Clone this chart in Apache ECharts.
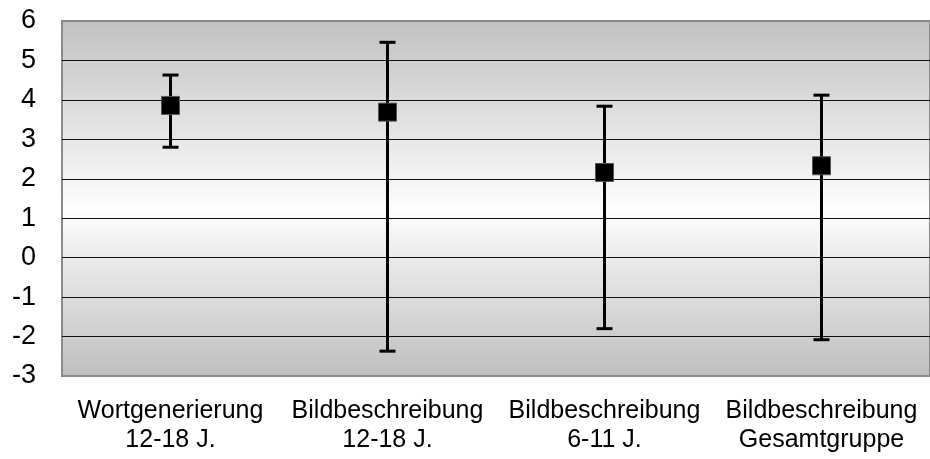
<!DOCTYPE html>
<html>
<head>
<meta charset="utf-8">
<script src="https://cdn.jsdelivr.net/npm/echarts@6/dist/echarts.min.js"></script>
<style>
  html, body { margin: 0; padding: 0; background: #fff; }
  #chart { width: 930px; height: 459px; }
</style>
</head>
<body>
<div id="chart"></div>
<script>
// Task groups shown on the x axis
const categories = [
  'Wortgenerierung\n12-18 J.',
  'Bildbeschreibung\n12-18 J.',
  'Bildbeschreibung\n6-11 J.',
  'Bildbeschreibung\nGesamtgruppe'
];
// Mean value per group
const means = [3.86, 3.69, 2.16, 2.33];
// Upper and lower whisker ends per group
const upper = [4.63, 5.46, 3.84, 4.12];
const lower = [2.80, -2.37, -1.80, -2.08];
// Value axis range
const yMin = -3;
const yMax = 6;
const yStep = 1;

const whiskers = categories.map((c, i) => [i, lower[i], upper[i]]);

const chart = echarts.init(document.getElementById('chart'), null, { renderer: 'canvas' });

chart.setOption({
  animation: false,
  grid: {
    left: 62, top: 21, right: 0, bottom: 83,
    show: true,
    borderColor: '#8a8a8a',
    borderWidth: 2,
    backgroundColor: {
      type: 'linear', x: 0, y: 0, x2: 0, y2: 1,
      colorStops: [
        { offset: 0, color: '#c1c1c1' },
        { offset: 0.53, color: '#fdfdfd' },
        { offset: 1, color: '#bfbfbf' }
      ]
    }
  },
  xAxis: {
    type: 'category',
    data: categories,
    boundaryGap: true,
    axisLine: { show: false },
    axisTick: { show: false },
    splitLine: { show: false },
    axisLabel: {
      interval: 0,
      margin: 21,
      color: '#000',
      fontFamily: '"Liberation Sans", Arial, sans-serif',
      fontSize: 25,
      lineHeight: 29
    }
  },
  yAxis: {
    type: 'value',
    min: yMin,
    max: yMax,
    interval: yStep,
    axisLine: { show: false },
    axisTick: { show: false },
    axisLabel: {
      margin: 26,
      color: '#000',
      fontFamily: '"Liberation Sans", Arial, sans-serif',
      fontSize: 27,
      padding: [6, 0, 0, 0]
    },
    splitLine: {
      show: true,
      showMinLine: false,
      showMaxLine: false,
      lineStyle: { color: '#111', width: 1 }
    }
  },
  series: [
    {
      type: 'custom',
      data: whiskers,
      z: 2,
      renderItem: function (params, api) {
        const x = api.value(0);
        const lo = api.coord([x, api.value(1)]);
        const hi = api.coord([x, api.value(2)]);
        const half = 8;
        const style = { stroke: '#000', lineWidth: 3 };
        return {
          type: 'group',
          children: [
            { type: 'line', shape: { x1: lo[0], y1: lo[1], x2: hi[0], y2: hi[1] }, style: style },
            { type: 'line', shape: { x1: hi[0] - half, y1: hi[1], x2: hi[0] + half, y2: hi[1] }, style: style },
            { type: 'line', shape: { x1: lo[0] - half, y1: lo[1], x2: lo[0] + half, y2: lo[1] }, style: style }
          ]
        };
      }
    },
    {
      type: 'scatter',
      data: means,
      z: 3,
      symbol: 'rect',
      symbolSize: 18,
      itemStyle: { color: '#000', borderColor: '#555', borderWidth: 1, opacity: 1 }
    }
  ]
});
</script>
</body>
</html>
